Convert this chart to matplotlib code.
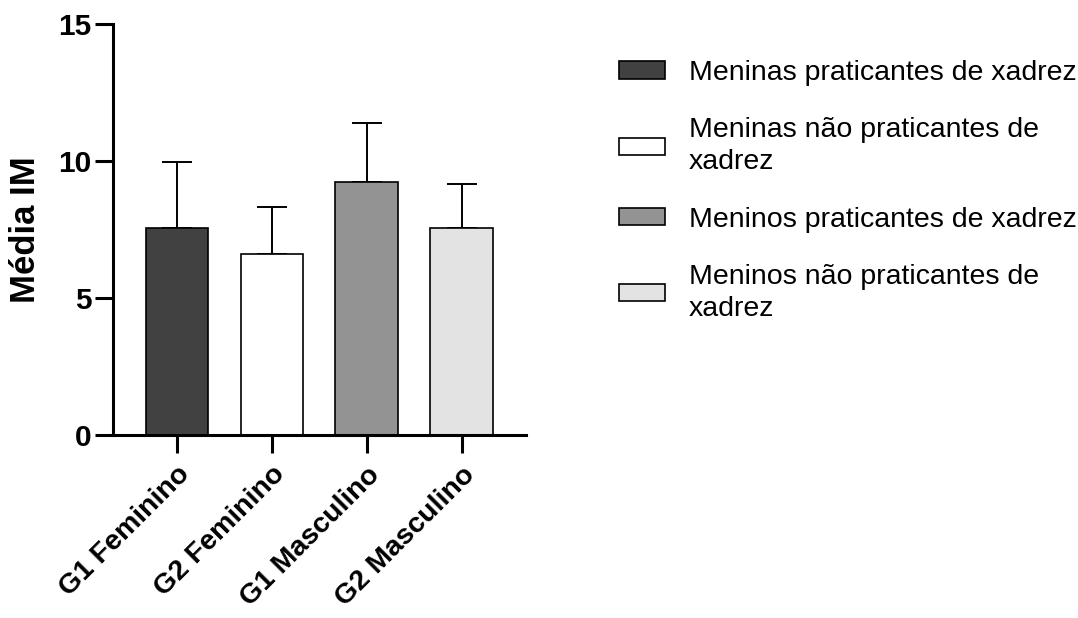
"""Bar chart of mean IM by group (chess players vs non-players)."""

import matplotlib.pyplot as plt
from matplotlib.patches import Patch

categories = ["G1 Feminino", "G2 Feminino", "G1 Masculino", "G2 Masculino"]
means = [7.55, 6.62, 9.23, 7.57]
upper_err = [2.41, 1.70, 2.17, 1.61]
legend_labels = [
    "Meninas praticantes de xadrez",
    "Meninas não praticantes de\nxadrez",
    "Meninos praticantes de xadrez",
    "Meninos não praticantes de\nxadrez",
]
colors = ["#414141", "#ffffff", "#939393", "#e3e3e3"]
y_ticks = [0, 5, 10, 15]


def main():
    plt.rcParams["font.family"] = ["Liberation Sans", "DejaVu Sans"]

    fig = plt.figure(figsize=(10.78, 6.18), dpi=100)
    ax = fig.add_axes([0.1045, 0.296, 0.3835, 0.665])

    x = list(range(len(categories)))
    ax.bar(x, means, width=0.655, color=colors, edgecolor="black",
           linewidth=1.2, zorder=2)
    ax.errorbar(x, means, yerr=[[0] * len(means), upper_err], fmt="none",
                ecolor="black", elinewidth=1.4, capsize=11, capthick=1.4,
                zorder=1)

    ax.set_xlim(-0.675, 3.68)
    ax.set_ylim(0, 15)
    ax.set_yticks(y_ticks)
    ax.set_xticks(x)
    ax.set_xticklabels(categories, rotation=45, ha="right",
                       rotation_mode="anchor", fontsize=20.5,
                       fontweight="bold")
    ax.tick_params(axis="y", labelsize=21.5, width=2.2, length=13, pad=2)
    ax.tick_params(axis="x", width=2.2, length=13, pad=6)
    for lab in ax.get_yticklabels():
        lab.set_fontweight("bold")
    ax.set_ylabel("Média IM", fontsize=25, fontweight="bold", labelpad=12)

    for side in ["top", "right"]:
        ax.spines[side].set_visible(False)
    for side in ["left", "bottom"]:
        ax.spines[side].set_linewidth(2.2)

    handles = [Patch(facecolor=c, edgecolor="black", linewidth=1.2)
               for c in colors]
    leg = fig.legend(handles, legend_labels, loc="upper left",
                     bbox_to_anchor=(619 / 1078, 1 - 60 / 618), frameon=False,
                     fontsize=20.5, borderpad=0, borderaxespad=0,
                     handlelength=1.6, handleheight=0.55, handletextpad=0.85,
                     labelspacing=1.1)
    for t in leg.get_texts():
        t.set_linespacing(1.3)

    fig.savefig("out.png", dpi=100)


if __name__ == "__main__":
    main()
